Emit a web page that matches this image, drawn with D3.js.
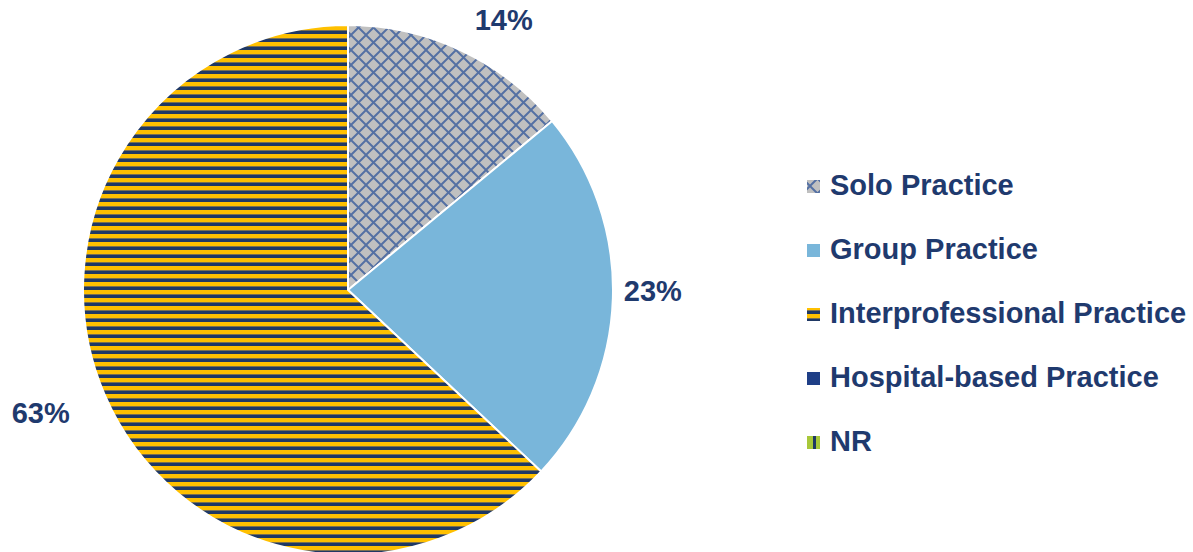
<!DOCTYPE html>
<html>
<head>
<meta charset="utf-8">
<script src="https://cdn.jsdelivr.net/npm/d3@7"></script>
<style>
  html, body { margin: 0; padding: 0; background: #fff; }
  svg { display: block; }
  text { font-family: "Liberation Sans", Arial, sans-serif; font-weight: bold; fill: #1F3A6E; }
</style>
</head>
<body>
<svg id="chart" width="1193" height="552"></svg>
<script>
// Practice setting shares (percent)
const categories = ["Solo Practice", "Group Practice", "Interprofessional Practice", "Hospital-based Practice", "NR"];
const values = [14, 23, 63, 0, 0];
const fills = ["url(#crosshatch)", "#79B6DA", "url(#stripes)", "#1F3F87", "url(#nrStripes)"];

const svg = d3.select("#chart");
const defs = svg.append("defs");

// Diamond lattice on grey
const ch = defs.append("pattern").attr("id", "crosshatch")
  .attr("patternUnits", "userSpaceOnUse").attr("width", 15).attr("height", 15)
  .attr("x", 3).attr("y", 0);
ch.append("rect").attr("width", 15).attr("height", 15).attr("fill", "#C0C0C0");
ch.append("path").attr("d", "M0,0L15,15M15,0L0,15M-1,14L1,16M14,-1L16,1")
  .attr("stroke", "#3A5C9C").attr("stroke-width", 2).attr("fill", "none").attr("opacity", 0.8);

// Horizontal gold / navy stripes
const st = defs.append("pattern").attr("id", "stripes")
  .attr("patternUnits", "userSpaceOnUse").attr("width", 8).attr("height", 8);
st.append("rect").attr("width", 8).attr("height", 8).attr("fill", "#FFC000");
st.append("rect").attr("y", 4).attr("width", 8).attr("height", 1).attr("fill", "#7A7050");
st.append("rect").attr("y", 5).attr("width", 8).attr("height", 3).attr("fill", "#1F3864");

// Lime with navy vertical stripe
const nr = defs.append("pattern").attr("id", "nrStripes")
  .attr("patternUnits", "userSpaceOnUse").attr("width", 13).attr("height", 13).attr("x", 807);
nr.append("rect").attr("width", 13).attr("height", 13).attr("fill", "#A8C83A");
nr.append("rect").attr("x", 5).attr("width", 3).attr("height", 13).attr("fill", "#1F3864");

const cx = 348, cy = 290, radius = 265;

const pie = d3.pie().sort(null).value(d => d.value);
const data = categories.map((c, i) => ({ name: c, value: values[i], fill: fills[i] }));
const arcs = pie(data);
const arc = d3.arc().innerRadius(0).outerRadius(radius);

const g = svg.append("g").attr("transform", `translate(${cx},${cy})`);
g.selectAll("path.slice").data(arcs.filter(a => a.data.value > 0)).join("path")
  .attr("class", "slice")
  .attr("d", arc)
  .attr("fill", d => d.data.fill)
  .attr("stroke", "#fff").attr("stroke-width", 2).attr("stroke-linejoin", "round");

// Percent labels outside the pie
const labelArc = d3.arc().innerRadius(radius + 35).outerRadius(radius + 35);
const labelOffsets = { "Solo Practice": [28, 1], "Group Practice": [5, -8], "Interprofessional Practice": [-32, 4] };
g.selectAll("text.pct").data(arcs.filter(a => a.data.value > 0)).join("text")
  .attr("class", "pct")
  .attr("transform", d => {
    const [x, y] = labelArc.centroid(d);
    const o = labelOffsets[d.data.name] || [0, 0];
    return `translate(${x + o[0]},${y + o[1]})`;
  })
  .attr("text-anchor", "middle").attr("dominant-baseline", "central")
  .attr("font-size", 29)
  .text(d => d.data.value + "%");

// Legend
const legend = svg.append("g").attr("transform", "translate(807,186)");
const rows = legend.selectAll("g.row").data(data).join("g")
  .attr("class", "row")
  .attr("transform", (d, i) => `translate(0,${i * 64})`);
rows.append("rect").attr("x", 0).attr("y", -6).attr("width", 13).attr("height", 13)
  .attr("fill", d => d.fill);
rows.append("text").attr("x", 23).attr("y", 9)
  .attr("font-size", 29)
  .text(d => d.name);
</script>
</body>
</html>
